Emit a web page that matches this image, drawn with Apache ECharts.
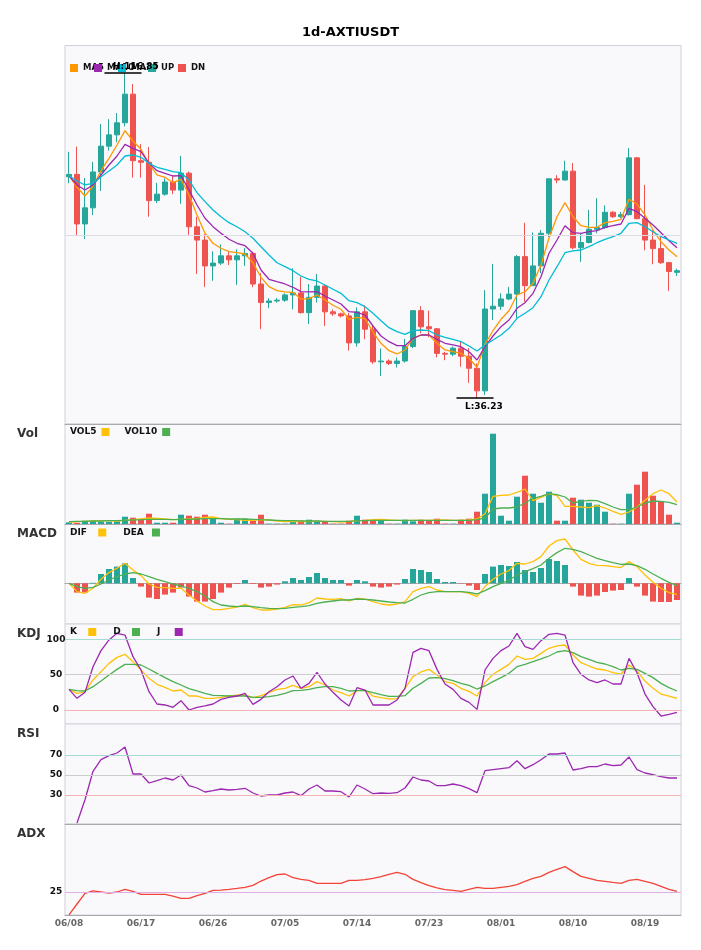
<!DOCTYPE html>
<html>
<head>
<meta charset="utf-8">
<title>1d-AXTIUSDT</title>
<script src="https://cdn.jsdelivr.net/npm/echarts@6/dist/echarts.min.js"></script>
<style>
  html, body { margin: 0; padding: 0; background: #fff; }
  #main { width: 701px; height: 950px; }
</style>
</head>
<body>
<div id="main"></div>
<script>
const FONT = "DejaVu Sans";
const UP_COLOR = "#26a69a";
const DN_COLOR = "#ef5350";

// 日期
const dates = [
  "06/08", "06/09", "06/10", "06/11", "06/12", "06/13", "06/14", "06/15", "06/16", "06/17",
  "06/18", "06/19", "06/20", "06/21", "06/22", "06/23", "06/24", "06/25", "06/26", "06/27",
  "06/28", "06/29", "06/30", "07/01", "07/02", "07/03", "07/04", "07/05", "07/06", "07/07",
  "07/08", "07/09", "07/10", "07/11", "07/12", "07/13", "07/14", "07/15", "07/16", "07/17",
  "07/18", "07/19", "07/20", "07/21", "07/22", "07/23", "07/24", "07/25", "07/26", "07/27",
  "07/28", "07/29", "07/30", "07/31", "08/01", "08/02", "08/03", "08/04", "08/05", "08/06",
  "08/07", "08/08", "08/09", "08/10", "08/11", "08/12", "08/13", "08/14", "08/15", "08/16",
  "08/17", "08/18", "08/19", "08/20", "08/21", "08/22", "08/23",
];

// K線 [open, close, low, high]
const kline = [
  [91.1, 91.7, 89.5, 97.3], [91.7, 79.4, 76.5, 98.6], [79.4, 83.4, 75.7, 90.8], [83.4, 92.3, 81.6, 94.8],
  [92.3, 98.7, 87.6, 104.2], [98.7, 101.5, 97.6, 105.4], [101.5, 104.5, 99.7, 106.9], [104.5, 111.6, 103.6, 116.85],
  [111.6, 95.1, 90.9, 114.1], [95.1, 94.7, 90.9, 99.2], [94.7, 85.2, 81.2, 98.5], [85.2, 86.8, 84.6, 89.6],
  [86.8, 89.8, 86.4, 90.7], [89.8, 87.8, 86.8, 91.5], [87.8, 92.0, 84.4, 96.3], [92.0, 78.7, 76.7, 92.4],
  [78.7, 75.4, 67.0, 81.2], [75.4, 69.0, 63.8, 76.9], [69.0, 69.7, 65.3, 72.6], [69.7, 71.5, 69.2, 74.3],
  [71.5, 70.5, 69.2, 72.7], [70.5, 71.5, 64.3, 73.1], [71.5, 72.1, 69.0, 73.4], [72.1, 64.5, 63.7, 72.5],
  [64.5, 59.9, 53.3, 67.2], [59.9, 60.3, 58.5, 61.0], [60.3, 60.5, 59.9, 61.0], [60.5, 61.8, 60.1, 62.2],
  [61.8, 62.3, 58.2, 68.4], [62.3, 57.4, 57.2, 66.3], [57.4, 61.2, 54.6, 64.5], [61.2, 64.0, 59.9, 67.0],
  [64.0, 57.6, 54.1, 64.3], [57.6, 57.1, 56.6, 58.2], [57.1, 56.6, 56.2, 57.4], [56.6, 49.9, 48.0, 57.3],
  [49.9, 57.6, 49.0, 58.7], [57.6, 53.3, 50.8, 59.2], [53.3, 45.2, 44.7, 54.1], [45.2, 45.4, 41.7, 48.5],
  [45.4, 44.8, 44.4, 45.8], [44.8, 45.4, 43.8, 46.3], [45.4, 49.0, 45.0, 50.9], [49.0, 57.9, 48.6, 58.0],
  [57.9, 53.9, 52.3, 59.0], [53.9, 53.4, 51.3, 57.9], [53.4, 47.3, 46.3, 53.6], [47.3, 47.1, 45.6, 47.7],
  [47.1, 48.6, 46.6, 49.0], [48.6, 46.6, 44.0, 50.2], [46.6, 43.6, 40.0, 48.6], [43.6, 38.0, 36.23, 44.8],
  [38.0, 58.3, 37.0, 63.0], [58.3, 59.0, 55.6, 69.5], [59.0, 60.8, 58.1, 62.2], [60.8, 62.0, 60.5, 63.8],
  [62.0, 71.3, 56.0, 71.7], [71.3, 64.1, 60.1, 79.7], [64.1, 69.0, 64.0, 77.3], [69.0, 77.1, 67.2, 77.9],
  [77.1, 90.6, 76.2, 90.7], [90.6, 90.3, 89.5, 91.5], [90.3, 92.5, 90.2, 95.1], [92.5, 73.5, 73.1, 94.5],
  [73.5, 74.8, 70.0, 77.1], [74.8, 78.1, 74.6, 82.9], [78.1, 78.5, 77.1, 85.8], [78.5, 82.3, 78.2, 84.0],
  [82.3, 81.2, 80.9, 82.6], [81.2, 81.7, 80.9, 82.4], [81.7, 95.8, 81.5, 98.2], [95.8, 80.7, 80.6, 96.0],
  [80.7, 75.4, 72.9, 89.1], [75.4, 73.3, 69.4, 77.9], [73.3, 69.8, 69.5, 76.7], [69.8, 67.6, 62.8, 70.0],
  [67.4, 67.8, 66.5, 68.3],
];

// 均線
const ma5 = [
  91.37, 88.50, 86.34, 88.82, 92.61, 95.69, 98.99, 102.54, 99.98, 97.92,
  94.28, 91.55, 90.98, 89.64, 90.48, 86.59, 81.63, 77.09, 74.61, 73.37,
  72.52, 72.27, 71.95, 69.79, 66.17, 63.84, 62.85, 62.53, 62.45, 60.79,
  60.86, 61.78, 60.54, 59.23, 58.24, 55.75, 56.25, 55.90, 52.60, 49.80,
  47.96, 47.15, 48.14, 51.04, 51.86, 51.86, 49.80, 48.14, 47.72, 47.32,
  46.08, 43.85, 49.63, 52.92, 55.75, 57.88, 61.78, 62.60, 64.68, 69.22,
  75.92, 81.20, 84.68, 81.20, 78.97, 78.57, 78.57, 79.72, 80.06, 80.56,
  85.52, 84.35, 81.63, 77.90, 74.99, 72.94, 71.28,
];
const ma10 = [
  91.37, 89.07, 87.83, 89.07, 91.55, 94.03, 96.26, 99.16, 98.17, 97.33,
  94.45, 92.61, 91.97, 91.30, 91.37, 87.83, 84.11, 80.81, 78.73, 77.09,
  75.60, 74.61, 74.01, 72.13, 67.98, 65.68, 65.08, 64.51, 63.69, 62.60,
  62.53, 62.60, 61.53, 60.54, 59.55, 57.64, 57.49, 56.82, 54.09, 51.61,
  50.20, 49.21, 49.21, 51.04, 51.86, 51.86, 50.79, 49.80, 49.38, 48.96,
  47.72, 45.66, 48.96, 51.61, 53.92, 55.58, 58.48, 59.87, 62.20, 66.32,
  72.13, 75.42, 78.97, 77.23, 77.09, 77.48, 77.73, 78.57, 78.97, 79.39,
  83.29, 82.44, 80.81, 79.14, 77.23, 75.25, 73.51,
];
const ma20 = [
  91.37, 90.06, 89.07, 89.49, 91.13, 92.54, 94.03, 96.26, 96.51, 95.94,
  94.45, 93.46, 92.96, 92.37, 92.12, 90.31, 87.16, 84.93, 82.87, 81.20,
  79.72, 78.72, 77.48, 75.85, 73.76, 71.70, 69.79, 68.80, 67.81, 66.49,
  65.68, 65.26, 64.26, 63.20, 62.20, 60.37, 59.87, 58.88, 57.24, 55.41,
  53.67, 52.68, 52.03, 52.92, 53.10, 52.92, 51.86, 51.29, 50.79, 50.20,
  49.13, 47.89, 49.38, 50.62, 51.86, 53.52, 56.00, 57.24, 58.63, 61.36,
  65.50, 68.80, 72.27, 72.70, 72.94, 73.76, 74.75, 75.60, 76.24, 77.09,
  79.57, 79.72, 78.72, 77.48, 76.24, 75.42, 74.61,
];

// 成交量
const vol = [
  1.7, 1.3, 3.3, 3.3, 2.3, 2.3, 2.7, 7.3, 6.3, 5.3, 10.3, 1.3, 1.3, 1.3, 9.3, 8.3, 7.3, 9.3, 6.3, 1.3,
  0.3, 5.3, 5.3, 3.3, 9.3, 0.3, 0.3, 0.3, 3.3, 3.3, 4.3, 3.3, 2.3, 0.3, 0.3, 3.3, 8.3, 4.3, 3.3, 4.3,
  0.3, 0.3, 4.3, 2.7, 4.3, 3.3, 5.3, 0.3, 0.3, 4.3, 5.3, 12.3, 30.3, 90.3, 8.3, 3.3, 27.3, 48.3, 30.3, 21.3,
  32.3, 3.3, 3.3, 26.3, 24.3, 21.3, 19.3, 12.3, 0.3, 0.3, 30.3, 39.3, 52.3, 28.3, 22.3, 9.3, 1.3,
];
const vol5 = [
  1.7, 2.3, 2.7, 3.0, 3.3, 3.3, 3.0, 3.7, 4.3, 5.0, 6.0, 5.7, 5.0, 4.3, 4.7, 5.0, 5.7, 6.7, 7.0, 5.3,
  4.7, 4.3, 3.7, 3.7, 4.3, 4.0, 3.0, 2.3, 2.3, 2.7, 2.3, 2.7, 2.7, 2.3, 2.0, 2.3, 3.3, 3.7, 4.3, 4.7,
  4.0, 3.7, 3.3, 3.7, 3.7, 3.7, 4.0, 4.0, 3.7, 3.7, 4.0, 5.0, 10.3, 27.7, 28.7, 29.0, 31.7, 35.0, 23.3, 26.7,
  30.3, 28.3, 17.7, 17.7, 17.0, 16.3, 18.3, 16.0, 12.7, 9.7, 12.0, 17.0, 23.7, 30.3, 34.0, 30.3, 22.0,
];
const vol10 = [
  2.3, 2.7, 2.7, 3.0, 3.0, 3.3, 3.3, 3.7, 4.0, 4.3, 4.7, 4.7, 4.7, 4.3, 4.7, 4.7, 5.0, 5.3, 5.3, 5.3,
  5.0, 5.0, 5.0, 4.7, 4.3, 4.0, 3.7, 3.3, 3.3, 3.0, 3.0, 3.0, 2.7, 2.7, 2.7, 2.7, 3.3, 3.3, 3.7, 3.7,
  3.7, 3.7, 3.7, 3.7, 3.7, 3.7, 3.7, 3.7, 3.7, 3.7, 3.7, 4.3, 6.0, 15.0, 16.0, 16.0, 17.0, 21.0, 25.7, 27.7,
  30.3, 29.3, 27.0, 21.0, 22.7, 23.7, 23.3, 20.3, 17.0, 14.3, 14.3, 17.0, 21.0, 23.0, 22.7, 21.7, 19.3,
];

// MACD
const dif = [
  0.00, -0.83, -1.00, -0.50, 0.40, 1.07, 1.50, 2.00, 1.33, 0.77, -0.07, -0.40, -0.43, -0.50, -0.50, -1.17,
  -1.77, -2.27, -2.63, -2.63, -2.50, -2.37, -2.10, -2.43, -2.67, -2.67, -2.57, -2.40, -2.13, -2.17, -1.93, -1.47,
  -1.57, -1.60, -1.53, -1.77, -1.50, -1.57, -1.83, -2.07, -2.17, -2.07, -1.83, -0.83, -0.50, -0.33, -0.67, -0.83,
  -0.83, -0.83, -1.00, -1.33, -0.33, 0.40, 0.93, 1.27, 2.00, 1.93, 2.17, 2.67, 3.73, 4.27, 4.43, 3.33,
  2.40, 2.00, 1.80, 1.77, 1.67, 1.57, 2.17, 1.67, 0.83, 0.10, -0.50, -0.93, -1.10,
];
const dea = [
  0.00, -0.33, -0.50, -0.40, -0.07, 0.33, 0.67, 0.93, 1.07, 0.93, 0.67, 0.40, 0.17, -0.07, -0.27, -0.50,
  -0.83, -1.27, -1.83, -2.17, -2.27, -2.33, -2.27, -2.33, -2.43, -2.50, -2.53, -2.50, -2.40, -2.33, -2.23, -2.00,
  -1.87, -1.77, -1.67, -1.67, -1.57, -1.60, -1.67, -1.77, -1.87, -1.93, -1.97, -1.60, -1.17, -0.93, -0.83, -0.83,
  -0.83, -0.83, -0.90, -1.07, -0.73, -0.33, 0.00, 0.30, 0.83, 1.17, 1.47, 1.83, 2.50, 3.07, 3.50, 3.40,
  3.17, 2.83, 2.50, 2.27, 2.07, 1.90, 1.93, 1.77, 1.40, 0.93, 0.50, 0.10, -0.23,
];
const macdHist = [
  0.00, -0.93, -0.93, 0.05, 0.93, 1.43, 1.67, 2.00, 0.53, -0.33, -1.43, -1.57, -1.13, -0.93, -0.43, -1.33,
  -1.83, -1.83, -1.57, -0.93, -0.43, -0.07, 0.33, -0.07, -0.43, -0.33, -0.13, 0.20, 0.53, 0.33, 0.63, 1.03,
  0.53, 0.33, 0.33, -0.23, 0.33, 0.20, -0.33, -0.43, -0.33, -0.13, 0.43, 1.43, 1.33, 1.13, 0.43, 0.13,
  0.13, -0.03, -0.23, -0.67, 0.93, 1.67, 1.83, 1.73, 2.13, 1.33, 1.13, 1.53, 2.43, 2.23, 1.83, -0.33,
  -1.23, -1.33, -1.23, -0.87, -0.73, -0.67, 0.53, -0.33, -1.23, -1.83, -1.87, -1.87, -1.67,
];

// KDJ
const kValues = [
  29.2, 23.6, 25.9, 42.5, 54.2, 66.0, 74.5, 78.8, 68.4, 56.6, 44.8, 36.3, 32.1, 26.9, 28.3, 19.8,
  19.8, 16.5, 16.5, 17.9, 19.8, 21.2, 21.2, 17.5, 20.3, 24.5, 29.2, 30.7, 34.9, 30.7, 33.0, 40.1,
  35.4, 28.3, 24.5, 19.8, 27.4, 28.3, 19.8, 17.5, 15.6, 16.0, 30.7, 47.2, 53.8, 57.5, 49.5, 40.1,
  37.7, 30.7, 26.4, 19.8, 38.7, 50.5, 57.5, 64.6, 76.4, 71.7, 73.1, 80.2, 87.3, 90.6, 92.0, 77.8,
  67.0, 62.3, 58.0, 56.6, 52.8, 50.9, 63.7, 55.2, 41.0, 30.7, 22.6, 19.8, 16.5,
];
const dValues = [
  29.2, 27.4, 26.9, 33.0, 41.0, 49.5, 57.5, 64.6, 64.6, 63.7, 58.0, 51.9, 45.8, 40.1, 35.4, 30.2,
  26.9, 23.6, 20.8, 20.3, 19.8, 19.8, 19.8, 17.9, 17.9, 18.9, 20.8, 23.6, 27.4, 27.8, 29.2, 31.6,
  33.0, 33.0, 30.7, 26.9, 27.4, 27.4, 24.5, 21.7, 19.3, 19.3, 20.3, 30.7, 37.7, 45.3, 45.8, 44.3,
  41.5, 37.7, 34.9, 29.7, 34.0, 40.1, 45.8, 51.9, 61.3, 64.6, 68.4, 72.2, 76.4, 82.1, 84.0, 81.1,
  75.5, 71.7, 67.5, 65.1, 61.3, 56.6, 59.0, 57.5, 51.9, 45.8, 37.7, 31.6, 26.9,
];
const jValues = [
  29.2, 16.5, 25.0, 61.3, 84.0, 99.1, 108.5, 106.1, 75.5, 56.6, 25.9, 8.5, 7.1, 3.8, 13.2, 0.0,
  3.8, 5.7, 8.5, 15.1, 17.9, 19.8, 23.6, 8.0, 15.1, 25.9, 33.0, 42.5, 48.1, 30.7, 37.7, 53.3,
  36.8, 25.0, 14.2, 5.7, 31.6, 28.3, 7.1, 7.1, 7.1, 14.2, 30.7, 81.6, 87.3, 84.0, 57.5, 36.8,
  29.2, 16.5, 10.8, 0.9, 56.6, 73.1, 84.0, 90.6, 108.5, 89.6, 85.8, 98.1, 107.1, 108.5, 106.1, 67.0,
  50.5, 42.5, 38.7, 42.5, 36.8, 36.8, 73.1, 52.8, 22.6, 4.7, -8.5, -6.1, -3.3,
];

// RSI
const rsi = [
  "-", 2.0, 25.3, 53.7, 65.3, 69.3, 72.0, 78.0, 51.0, 51.0, 42.0, 44.3, 47.0, 45.0, 50.0, 39.3,
  37.0, 33.0, 34.3, 36.0, 35.0, 35.7, 36.7, 32.0, 29.0, 30.0, 30.0, 32.0, 33.0, 29.3, 36.0, 40.0,
  34.0, 34.0, 33.3, 28.0, 40.0, 36.0, 31.3, 32.0, 31.7, 32.3, 37.0, 48.0, 45.0, 44.0, 39.3, 39.3,
  41.0, 39.3, 36.3, 32.3, 54.3, 55.3, 56.3, 57.3, 64.3, 56.3, 60.3, 65.3, 71.0, 71.0, 72.0, 55.0,
  56.3, 58.3, 58.3, 61.0, 59.3, 60.0, 68.0, 55.3, 52.0, 50.3, 48.3, 47.0, 47.0,
];

// ADX
const adx = [
  9.7, 17.0, 24.1, 25.7, 25.0, 24.3, 25.0, 26.8, 25.4, 23.4, 23.4, 23.4, 23.4, 22.3, 20.8, 20.8,
  22.6, 24.1, 26.1, 26.3, 26.8, 27.4, 28.1, 29.4, 32.3, 34.6, 36.6, 37.0, 34.6, 33.4, 32.8, 30.8,
  30.8, 30.8, 30.8, 32.8, 32.8, 33.2, 34.1, 35.2, 36.8, 38.1, 36.8, 33.4, 31.2, 29.2, 27.7, 26.6,
  26.1, 25.4, 26.8, 28.1, 27.4, 27.4, 28.1, 28.8, 29.9, 32.1, 34.1, 35.4, 38.1, 40.1, 41.9, 38.6,
  35.4, 34.1, 32.8, 32.1, 31.4, 30.8, 32.8, 33.4, 32.1, 30.8, 28.8, 26.8, 25.4,
];

// 參考線 [數值, 顏色]
const kdjLevels = [[100, "#a6dbd4"], [50, "#cccccc"], [0, "#f4b4b4"]];
const rsiLevels = [[70, "#a6dbd4"], [50, "#cccccc"], [30, "#f4b4b4"]];
const adxLevels = [[25, "#dfaee6"]];
const priceMid = [[76.5, "#dcdae3"]];

// 最高 / 最低
const highs = kline.map((k) => k[3]);
const lows = kline.map((k) => k[2]);
const hiIdx = highs.indexOf(Math.max(...highs));
const loIdx = lows.indexOf(Math.min(...lows));

const isUp = (k) => k[1] >= k[0];
const upData = kline.map((k) => (isUp(k) ? k : "-"));
const dnData = kline.map((k) => (isUp(k) ? "-" : k));

const boldText = (size, color) => ({ fontFamily: FONT, fontWeight: "bold", fontSize: size, color });

function refLines(levels) {
  return {
    silent: true,
    symbol: "none",
    animation: false,
    label: { show: false },
    data: levels.map(([v, c]) => ({ yAxis: v, lineStyle: { color: c, width: 1, type: "solid" } })),
  };
}

function lineSeries(name, data, color, idx, extra) {
  return Object.assign(
    {
      name, type: "line", data, xAxisIndex: idx, yAxisIndex: idx,
      symbol: "none", showSymbol: false, color,
      lineStyle: { color, width: 1.3 },
    },
    extra || {}
  );
}

function valueAxis(gridIndex, min, max, labels) {
  return {
    type: "value", gridIndex, min, max,
    axisLine: { show: false }, axisTick: { show: false }, splitLine: { show: false },
    axisLabel: labels
      ? Object.assign({ show: true, customValues: labels, align: "center", margin: 9 }, boldText(9, "#111"))
      : { show: false },
  };
}

const panelTops = [45.5, 424, 524, 624, 724, 824];
const panelHeights = [378.5, 100, 100, 100, 100, 91];

const grids = panelTops.map((top, i) => ({
  left: 65, right: 20, top, height: panelHeights[i],
  show: true, backgroundColor: "#f9f9fc", borderColor: "#d0d0d8", borderWidth: 1,
}));

const xAxes = grids.map((g, i) => ({
  type: "category", gridIndex: i, data: dates, boundaryGap: true,
  axisLine: { show: true, lineStyle: { color: "#a9a9b0" } },
  axisTick: { show: false },
  splitLine: { show: false },
  axisLabel: Object.assign({ show: i === 5, interval: 8, margin: 4 }, boldText(9, "#666")),
}));

const panelNames = [["Vol", 428], ["MACD", 528], ["KDJ", 628], ["RSI", 728], ["ADX", 828]];

const padNames = { DIF: "DIF  ", DEA: "DEA ", K: "K  ", D: "D  ", J: "J   " };
const maLegends = [["MA5", 70], ["MA10", 94], ["MA20", 118], ["UP", 148], ["DN", 178]];

const panelLegend = (names, top, gap) => ({
  data: names, left: 70, top, align: "right", itemGap: gap,
  icon: "rect", itemWidth: 8, itemHeight: 8, padding: 0, selectedMode: false,
  itemStyle: { borderWidth: 0 },
  formatter: (n) => padNames[n] || n,
  textStyle: boldText(9, "#111"),
});

const option = {
  animation: false,
  backgroundColor: "#ffffff",
  title: [
    { text: "1d-AXTIUSDT", left: "center", top: 26, padding: 0, textStyle: boldText(13, "#000") },
  ].concat(panelNames.map(([t, top]) => ({ text: t, left: 17, top, padding: 0, textStyle: boldText(12, "#333") }))),
  legend: maLegends
    .map(([name, left]) => ({
      data: [name], left, top: 63.5, icon: "rect", itemWidth: 8, itemHeight: 8,
      padding: 0, selectedMode: false, itemStyle: { borderWidth: 0 },
      textStyle: boldText(8.5, "#111"),
    }))
    .concat([
      panelLegend(["VOL5", "VOL10"], 427.5, 15),
      panelLegend(["DIF", "DEA"], 528, 17),
      panelLegend(["K", "D", "J"], 627.5, 17),
    ]),
  grid: grids,
  xAxis: xAxes,
  yAxis: [
    valueAxis(0, 29.78, 123.67),
    valueAxis(1, 0, 100),
    valueAxis(2, -4.07, 5.93),
    valueAxis(3, -19.8, 121.7, kdjLevels.map((l) => l[0])),
    valueAxis(4, 1, 101, rsiLevels.map((l) => l[0])),
    valueAxis(5, 9.67, 70.33, adxLevels.map((l) => l[0])),
  ],
  series: [
    {
      name: "UP", type: "candlestick", data: upData, xAxisIndex: 0, yAxisIndex: 0, barWidth: 6,
      itemStyle: { color: UP_COLOR, color0: UP_COLOR, borderColor: UP_COLOR, borderColor0: UP_COLOR, borderWidth: 1 },
      markLine: refLines(priceMid),
      markPoint: {
        silent: true, animation: false,
        symbol: "rect", symbolSize: [37, 1.3], symbolOffset: [-2, 0],
        itemStyle: { color: "#000" },
        label: Object.assign(
          { show: true, position: "top", distance: 1.5, align: "left", offset: [-10, 0], formatter: "H:" + highs[hiIdx] },
          boldText(9, "#000")
        ),
        data: [{ coord: [hiIdx, highs[hiIdx]] }],
      },
    },
    {
      name: "DN", type: "candlestick", data: dnData, xAxisIndex: 0, yAxisIndex: 0, barWidth: 6,
      itemStyle: { color: DN_COLOR, color0: DN_COLOR, borderColor: DN_COLOR, borderColor0: DN_COLOR, borderWidth: 1 },
      markPoint: {
        silent: true, animation: false,
        symbol: "rect", symbolSize: [37, 1.3], symbolOffset: [-2, 0],
        itemStyle: { color: "#000" },
        label: Object.assign(
          { show: true, position: "bottom", distance: 3.5, align: "left", offset: [-10, 0], formatter: "L:" + lows[loIdx] },
          boldText(9, "#000")
        ),
        data: [{ coord: [loIdx, lows[loIdx]] }],
      },
    },
    lineSeries("MA5", ma5, "#ff9800", 0),
    lineSeries("MA10", ma10, "#9c27b0", 0),
    lineSeries("MA20", ma20, "#00bcd4", 0),

    {
      name: "Vol", type: "bar", xAxisIndex: 1, yAxisIndex: 1, barWidth: 6,
      data: vol.map((v, i) => ({ value: v, itemStyle: { color: isUp(kline[i]) ? UP_COLOR : DN_COLOR } })),
    },
    lineSeries("VOL5", vol5, "#ffc107", 1),
    lineSeries("VOL10", vol10, "#4caf50", 1),

    {
      name: "MACD", type: "bar", xAxisIndex: 2, yAxisIndex: 2, barWidth: 6,
      data: macdHist.map((v) => ({ value: v, itemStyle: { color: v >= 0 ? UP_COLOR : DN_COLOR } })),
    },
    lineSeries("DIF", dif, "#ffc107", 2),
    lineSeries("DEA", dea, "#4caf50", 2),

    lineSeries("K", kValues, "#ffc107", 3, { markLine: refLines(kdjLevels) }),
    lineSeries("D", dValues, "#4caf50", 3),
    lineSeries("J", jValues, "#9c27b0", 3),

    lineSeries("RSI", rsi, "#9c27b0", 4, { markLine: refLines(rsiLevels) }),

    lineSeries("ADX", adx, "#f44336", 5, { markLine: refLines(adxLevels) }),
  ],
};

const chart = echarts.init(document.getElementById("main"));
chart.setOption(option);
</script>
</body>
</html>
